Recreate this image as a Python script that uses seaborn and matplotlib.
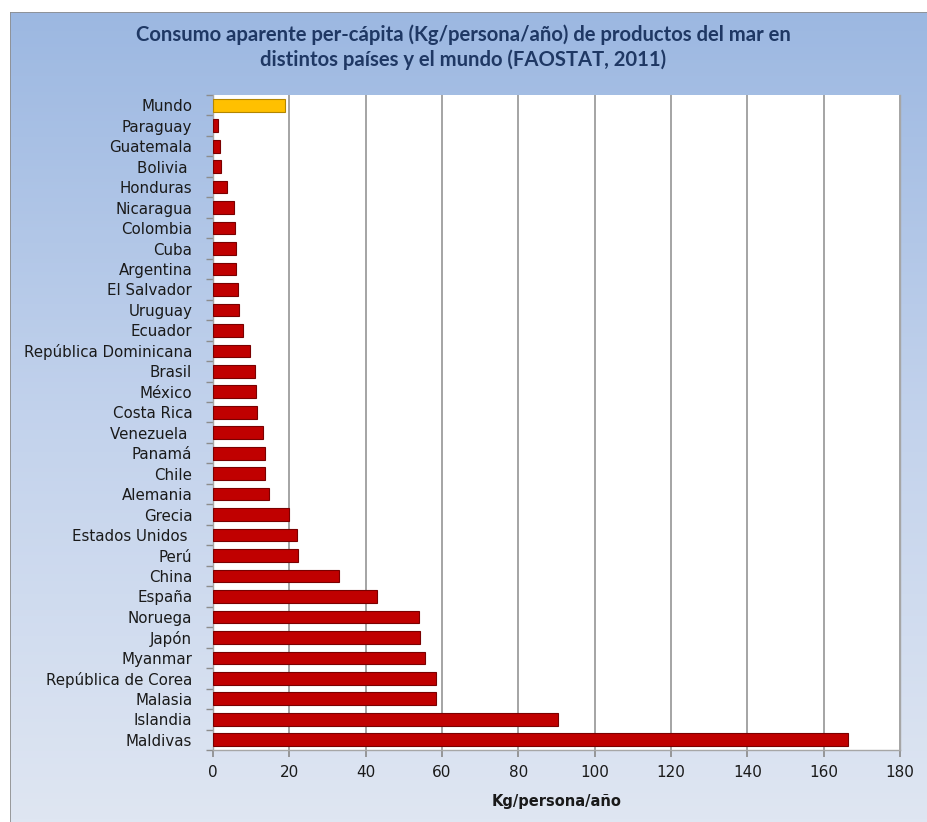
import numpy as np
import pandas as pd
import matplotlib
matplotlib.use("Agg")
import matplotlib.pyplot as plt
import seaborn as sns
from matplotlib.patches import Rectangle
from matplotlib.colors import LinearSegmentedColormap

countries = ["Mundo", "Paraguay", "Guatemala", "Bolivia ", "Honduras", "Nicaragua",
             "Colombia", "Cuba", "Argentina", "El Salvador", "Uruguay", "Ecuador",
             "República Dominicana", "Brasil", "México", "Costa Rica", "Venezuela ",
             "Panamá", "Chile", "Alemania", "Grecia", "Estados Unidos ", "Perú",
             "China", "España", "Noruega", "Japón", "Myanmar", "República de Corea",
             "Malasia", "Islandia", "Maldivas"]
values = [18.9, 1.2, 1.8, 2.0, 3.6, 5.4, 5.7, 6.0, 6.0, 6.5, 6.7, 7.8, 9.6, 11.0,
          11.2, 11.5, 13.1, 13.6, 13.6, 14.6, 19.9, 22.0, 22.3, 33.1, 42.9, 54.0,
          54.2, 55.5, 58.4, 58.4, 90.5, 166.3]
groups = ["Mundo"] + ["País"] * (len(countries) - 1)
xticks = [0, 20, 40, 60, 80, 100, 120, 140, 160, 180]

title = ("Consumo aparente per-cápita (Kg/persona/año) de productos del mar en\n"
         "distintos países y el mundo (FAOSTAT, 2011)")
xlabel = "Kg/persona/año"

df = pd.DataFrame({"country": countries, "value": values, "group": groups})

sns.set_theme(style="white")
plt.rcParams["font.family"] = ["DejaVu Sans"]

fig = plt.figure(figsize=(9.27, 8.22), dpi=100)

# background gradient
bg = fig.add_axes([0, 0, 1, 1], zorder=-10)
grad = np.linspace(0, 1, 256).reshape(-1, 1)
cmap = LinearSegmentedColormap.from_list("bg", ["#9bb7e1", "#c2d2ec", "#dfe6f2"])
bg.imshow(grad, aspect="auto", cmap=cmap, extent=[0, 1, 0, 1], origin="upper")
bg.set_xlim(0, 1); bg.set_ylim(0, 1)
bg.axis("off")
fig.patches.append(Rectangle((10 / 927, -0.01), 1.0, 1 - 12 / 822 + 0.01,
                             transform=fig.transFigure, fill=False,
                             edgecolor="#8c8c8c", lw=1.2, zorder=-5))
fig.patches.append(Rectangle((0, 1 - 12 / 822), 1, 12 / 822, transform=fig.transFigure,
                             facecolor="white", edgecolor="none", zorder=-4))
fig.patches.append(Rectangle((0, 0), 10 / 927, 1, transform=fig.transFigure,
                             facecolor="white", edgecolor="none", zorder=-4))

ax = fig.add_axes([213 / 927, 1 - 750 / 822, (900 - 213) / 927, (750 - 95) / 822])
sns.barplot(data=df, x="value", y="country", hue="group", orient="h",
            palette={"Mundo": "#ffc000", "País": "#c00000"}, width=0.62,
            saturation=1, edgecolor="#7a0000", linewidth=0.8, legend=False,
            ax=ax, zorder=3)
for bar in ax.patches:
    fc = bar.get_facecolor()
    if fc[1] > 0.5:
        bar.set_edgecolor("#b38600")

ax.set_facecolor("white")
ax.set_xlim(0, 180)
ax.set_xticks(xticks)
ax.set_xticklabels([str(t) for t in xticks], fontsize=11, color="#1a1a1a")
ax.xaxis.grid(True, color="#8c8c8c", lw=1.1, zorder=0)
ax.set_axisbelow(True)
ax.set_ylabel("")
ax.set_xlabel(xlabel, fontsize=10.5, fontweight="bold", color="#1a1a1a", labelpad=10)
ax.tick_params(axis="y", labelsize=10.8, colors="#1a1a1a", length=0, pad=15)
ax.tick_params(axis="x", length=5, color="#8c8c8c", direction="out", pad=6)
ax.set_yticks(np.arange(-0.5, len(countries), 1), minor=True)
ax.tick_params(axis="y", which="minor", length=5, color="#8c8c8c", left=True)
ax.tick_params(axis="x", bottom=True)
for s in ["left", "bottom", "right", "top"]:
    ax.spines[s].set_color("#a6a6a6")
    ax.spines[s].set_linewidth(1.0)
ax.spines["top"].set_visible(False)

fig.text(0.5, 1 - 47 / 822, title, ha="center", va="center", fontsize=14.6,
         fontweight="bold", color="#1f3864", family=["Lato", "DejaVu Sans"],
         linespacing=1.3)

fig.savefig("out.png", dpi=100)
